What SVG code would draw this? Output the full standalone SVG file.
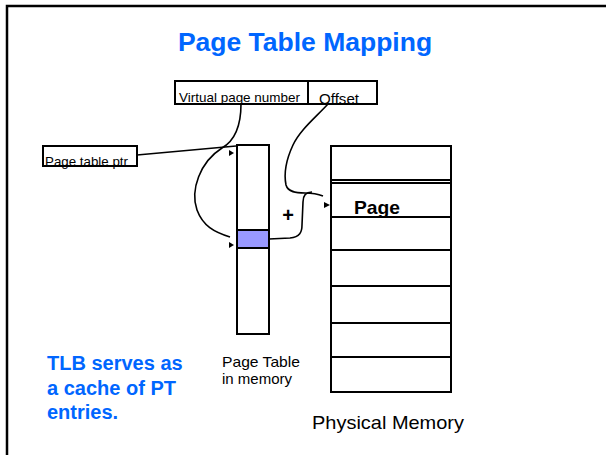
<svg xmlns="http://www.w3.org/2000/svg" width="606" height="455" viewBox="0 0 606 455">
<style>
.box{fill:#fff;stroke:#000;stroke-width:2}
.ln{fill:none;stroke:#000;stroke-width:1.6}
.row{fill:none;stroke:#000;stroke-width:2}
.t{font-family:"Liberation Sans",Arial,sans-serif;fill:#000}
.blue{font-family:"Liberation Sans",Arial,sans-serif;fill:#0066ff;font-weight:bold}
.ah{fill:#000}
</style>
<rect x="0" y="0" width="606" height="455" fill="#fff"/>
<path d="M7,470 L7,6 L620,6" fill="none" stroke="#000" stroke-width="2.5"/>
<text class="blue" x="305" y="51" font-size="26.5" text-anchor="middle">Page Table Mapping</text>

<g id="vaddr">
<rect class="box" x="175" y="81" width="133" height="23"/>
<text class="t" x="179" y="101.5" font-size="13" textLength="121" lengthAdjust="spacingAndGlyphs">Virtual page number</text>
</g>
<g id="offset">
<rect class="box" x="308" y="81" width="69" height="23"/>
<text class="t" x="319" y="104" font-size="15" textLength="40" lengthAdjust="spacingAndGlyphs">Offset</text>
</g>
<g id="ptr">
<rect class="box" x="43" y="146" width="94" height="20"/>
<text class="t" x="45" y="166" font-size="13" textLength="83" lengthAdjust="spacingAndGlyphs">Page table ptr</text>
</g>
<g id="pagetable">
<rect class="box" x="237" y="145" width="32" height="189"/>
<rect x="237" y="230" width="32" height="18" fill="#9999ff" stroke="#000" stroke-width="2"/>
<text class="t" x="222" y="367" font-size="15" textLength="78" lengthAdjust="spacingAndGlyphs">Page Table</text>
<text class="t" x="222" y="384" font-size="15">in memory</text>
</g>
<g id="physmem">
<rect class="box" x="331" y="146" width="120" height="246"/>
<path class="row" d="M331,180H451M331,183H451M331,217H451M331,250H451M331,286H451M331,323H451M331,357H451"/>
<text class="t" x="354" y="214" font-size="18.5" font-weight="bold" textLength="46" lengthAdjust="spacingAndGlyphs">Page</text>
<text class="t" x="312" y="429" font-size="19" textLength="152" lengthAdjust="spacingAndGlyphs">Physical Memory</text>
</g>
<g id="plus">
<text class="t" x="288" y="222" font-size="20" font-weight="bold" text-anchor="middle">+</text>
</g>
<g id="tlbnote">
<text class="blue" x="47" y="370" font-size="20">TLB serves as</text>
<text class="blue" x="47" y="395" font-size="20">a cache of PT</text>
<text class="blue" x="47" y="419" font-size="20">entries.</text>
</g>
<g id="connectors">
<path class="ln" d="M137,155 L236,146"/>
<polygon class="ah" points="229,150 234,153 229,156"/>
<path class="ln" d="M241,104 C241,125 236,140 222,148 C200,162 190,190 197,210 C203,226 214,232 230,237"/>
<polygon class="ah" points="229,242 234,245 229,248"/>
<path class="ln" d="M328,104 C315,118 300,130 293,145 C286,160 284,175 286,185 C288,192 296,193 305,193 C312,193 318,194 323,196"/>
<polygon class="ah" points="324,202 330,205 324,208"/>
<path class="ln" d="M269,239 L290,238 C300,237 302,232 302,225 L303,202 C303,196 306,192 312,192"/>
</g>
</svg>
